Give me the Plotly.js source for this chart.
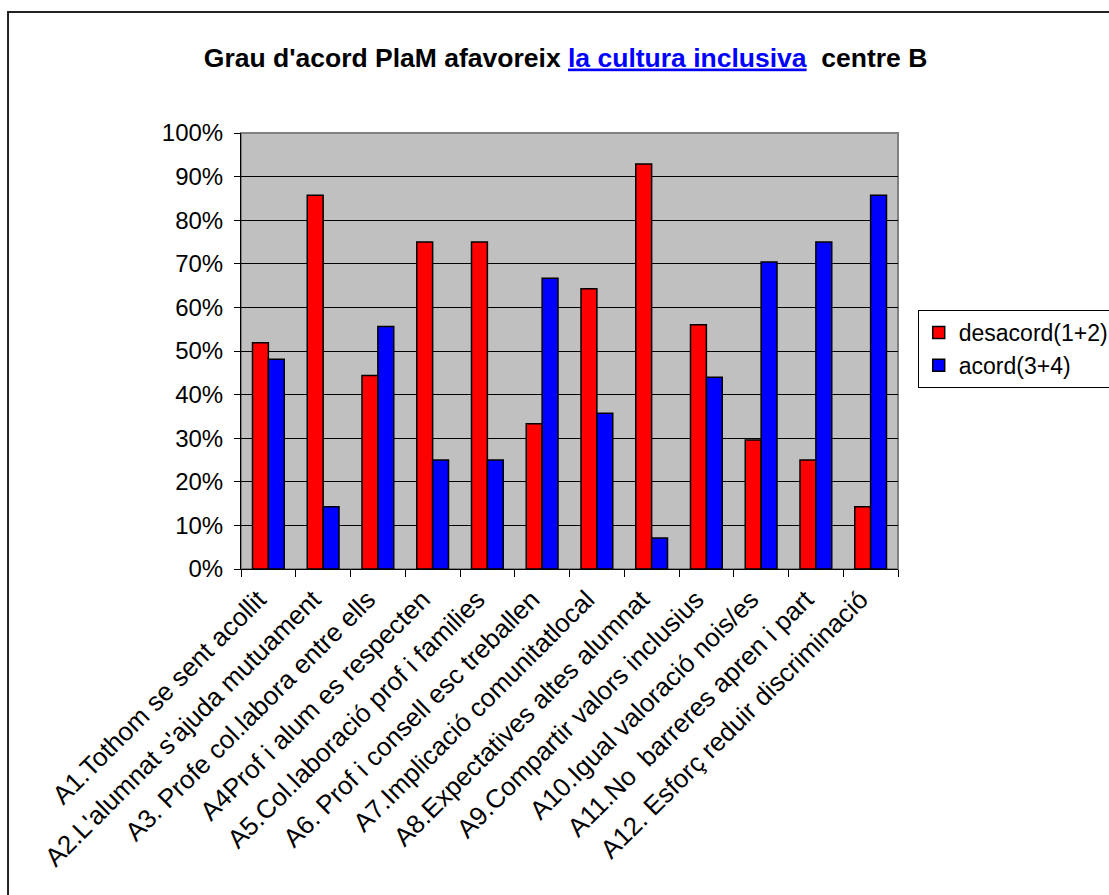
<!DOCTYPE html>
<html>
<head>
<meta charset="utf-8">
<script src="https://cdn.plot.ly/plotly-3.0.1.min.js"></script>
<style>
html,body{margin:0;padding:0;background:#fff;overflow:hidden;}
#chart{width:1109px;height:895px;}
</style>
</head>
<body>
<div id="chart"></div>
<script>
var categories = [
  "A1.Tothom se sent acollit",
  "A2.L'alumnat s'ajuda mutuament",
  "A3. Profe col.labora entre ells",
  "A4Prof i alum es respecten",
  "A5.Col.laboració prof i families",
  "A6. Prof i consell esc treballen",
  "A7.Implicació comunitatlocal",
  "A8.Expectatives altes alumnat",
  "A9.Compartir valors inclusius",
  "A10.Igual valoració nois/es",
  "A11.No\u00a0 barreres apren i part",
  "A12. Esforç reduir discriminació"
];
var desacord = [0.519, 0.857, 0.444, 0.75, 0.75, 0.333, 0.643, 0.929, 0.56, 0.296, 0.25, 0.143];
var acord    = [0.481, 0.143, 0.556, 0.25, 0.25, 0.667, 0.357, 0.071, 0.44, 0.704, 0.75, 0.857];
var seriesNames = ["desacord(1+2)", "acord(3+4)"];
var yTicks = [0, 0.1, 0.2, 0.3, 0.4, 0.5, 0.6, 0.7, 0.8, 0.9, 1.0];

var font = "Arial, 'Liberation Sans', sans-serif";

var traces = [
  {type:'bar', name:seriesNames[0], x:categories, y:desacord,
   marker:{color:'#FF0000', line:{color:'#000000', width:1.5}}},
  {type:'bar', name:seriesNames[1], x:categories, y:acord,
   marker:{color:'#0000FF', line:{color:'#000000', width:1.5}}}
];

var layout = {
  width:1109, height:895,
  paper_bgcolor:'#FFFFFF',
  plot_bgcolor:'#C0C0C0',
  margin:{l:241, r:211, t:133, b:326, pad:0, autoexpand:false},
  font:{family:font, size:24, color:'#000000'},
  title:{
    text:"<b>Grau d'acord PlaM afavoreix <span style=\"color:#0000FF;text-decoration:underline\">la cultura inclusiva</span>\u00a0 centre B</b>",
    font:{family:font, size:26.5, color:'#000000'},
    x:0.51, xref:'container', xanchor:'center',
    y:0.936, yref:'container', yanchor:'middle'
  },
  barmode:'group',
  bargap:0.42,
  bargroupgap:0,
  xaxis:{
    type:'category',
    tickangle:-45,
    ticks:'outside', ticklen:7, tickcolor:'#000000', tickwidth:1,
    tickson:'boundaries',
    ticklabelshift:-10,
    ticklabelstandoff:4,
    showline:true, linecolor:'#000000', linewidth:1,
    showgrid:false, zeroline:false,
    tickfont:{family:font, size:26, color:'#000000'},
    automargin:false
  },
  yaxis:{
    range:[0,1],
    tickvals:yTicks,
    tickformat:'.0%',
    ticks:'outside', ticklen:6, tickcolor:'#000000', tickwidth:1,
    ticklabelstandoff:6,
    showline:true, linecolor:'#000000', linewidth:1,
    showgrid:true, gridcolor:'#000000', gridwidth:1,
    zeroline:false,
    tickfont:{family:font, size:24, color:'#000000'},
    automargin:false
  },
  legend:{
    x:1.03, y:0.594, xanchor:'left', yanchor:'top',
    bgcolor:'#FFFFFF', bordercolor:'#000000', borderwidth:1,
    font:{family:font, size:23, color:'#000000'},
    traceorder:'normal'
  },
  shapes:[
    {type:'rect', xref:'paper', yref:'paper', x0:0, x1:1, y0:0, y1:1,
     line:{color:'#808080', width:2}, fillcolor:'rgba(0,0,0,0)', layer:'below'},
    {type:'rect', xref:'paper', yref:'paper', x0:-0.3546, x1:1.45, y0:-0.85, y1:1.2775,
     line:{color:'#222222', width:2}, fillcolor:'rgba(0,0,0,0)', layer:'above'}
  ],
  showlegend:true
};

Plotly.newPlot('chart', traces, layout, {displayModeBar:false, staticPlot:true});
</script>
</body>
</html>
